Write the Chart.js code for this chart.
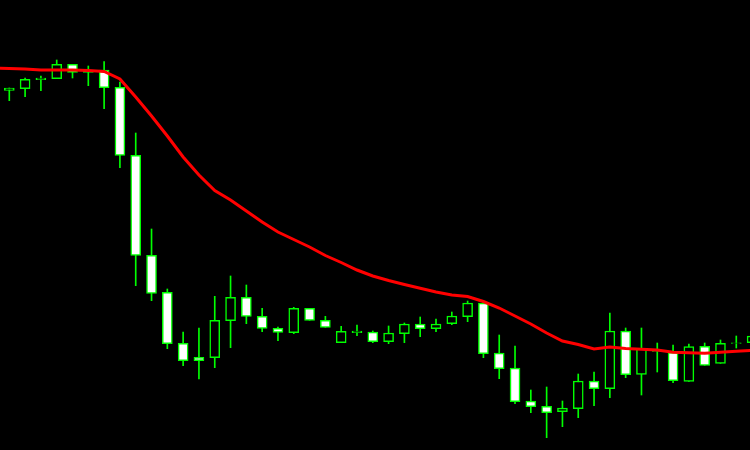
<!DOCTYPE html>
<html>
<head>
<meta charset="utf-8">
<script src="https://cdn.jsdelivr.net/npm/chart.js"></script>
<style>
  html, body { margin: 0; padding: 0; background: #000; }
  #wrap { width: 750px; height: 450px; }
</style>
</head>
<body>
<div id="wrap"><canvas id="chart" width="750" height="450"></canvas></div>
<script>
// candles, left to right (bar 0 is the first one on screen)
const open = [
  111.097, 111.113, 111.203, 111.213, 111.357, 111.290, 111.300, 111.127, 110.447, 109.447,
  109.077, 108.567, 108.427, 108.423, 108.793, 109.027, 108.837, 108.717, 108.673, 108.917,
  108.797, 108.573, 108.673, 108.680, 108.583, 108.663, 108.760, 108.713, 108.763, 108.833,
  108.970, 108.470, 108.320, 107.990, 107.937, 107.883, 107.913, 108.190, 108.113, 108.690,
  108.255, 108.485, 108.477, 108.187, 108.537, 108.367, 108.565, 108.573
]
const high = [
  111.120, 111.220, 111.240, 111.400, 111.357, 111.340, 111.383, 111.180, 110.670, 109.710,
  109.110, 108.680, 108.720, 109.037, 109.240, 109.150, 108.917, 108.730, 108.927, 108.917,
  108.837, 108.737, 108.750, 108.690, 108.740, 108.770, 108.830, 108.810, 108.880, 108.990,
  108.990, 108.650, 108.540, 108.100, 108.130, 107.990, 108.260, 108.280, 108.870, 108.720,
  108.720, 108.570, 108.550, 108.560, 108.570, 108.600, 108.640, 108.640
]
const low = [
  110.993, 111.033, 111.093, 111.213, 111.220, 111.143, 110.913, 110.323, 109.143, 108.993,
  108.513, 108.343, 108.210, 108.323, 108.523, 108.763, 108.683, 108.593, 108.663, 108.797,
  108.727, 108.573, 108.643, 108.573, 108.563, 108.573, 108.633, 108.683, 108.753, 108.783,
  108.423, 108.213, 107.963, 107.873, 107.623, 107.733, 107.823, 107.943, 108.023, 108.223,
  108.050, 108.280, 108.173, 108.187, 108.347, 108.367, 108.520, 108.573
]
const close = [
  111.120, 111.207, 111.220, 111.357, 111.277, 111.275, 111.123, 110.447, 109.447, 109.065,
  108.563, 108.393, 108.393, 108.797, 109.027, 108.835, 108.715, 108.677, 108.917, 108.797,
  108.727, 108.687, 108.690, 108.583, 108.670, 108.760, 108.713, 108.760, 108.840, 108.970,
  108.463, 108.313, 107.983, 107.933, 107.873, 107.920, 108.190, 108.113, 108.690, 108.253,
  108.515, 108.495, 108.193, 108.535, 108.347, 108.567, 108.572, 108.640
]
// moving average, starts one bar before bar 0
const maStart = -1
const ma = [
  111.320,
  111.315, 111.310, 111.300, 111.300, 111.300, 111.295, 111.285, 111.210, 111.030, 110.840,
  110.640, 110.430, 110.250, 110.095, 110.000, 109.890, 109.780, 109.680, 109.605, 109.530,
  109.445, 109.375, 109.300, 109.240, 109.195, 109.155, 109.117, 109.080, 109.050, 109.035,
  108.985, 108.920, 108.840, 108.760, 108.670, 108.590, 108.555, 108.510, 108.530, 108.515,
  108.507, 108.500, 108.477, 108.473, 108.467, 108.477, 108.487, 108.497
]

const GREEN = "#00ff00"

const bodies = open.map((o, i) => ({ x: i, y: [o, close[i]] }))
const wicks = open.map((o, i) => ({ x: i, y: [low[i], high[i]] }))
const maPoints = ma.map((v, i) => ({ x: i + maStart, y: v }))
const bodyFill = open.map((o, i) => close[i] > o ? "#000000" : "#ffffff")

new Chart(document.getElementById("chart"), {
  type: "bar",
  data: {
    datasets: [
      {
        type: "line",
        data: maPoints,
        borderColor: "#ff0000",
        borderWidth: 3,
        pointRadius: 0,
        tension: 0,
        order: 0
      },
      {
        data: bodies,
        backgroundColor: bodyFill,
        borderColor: GREEN,
        borderWidth: 1.5,
        borderSkipped: false,
        barThickness: 10,
        grouped: false,
        order: 1
      },
      {
        data: wicks,
        backgroundColor: GREEN,
        borderWidth: 0,
        barThickness: 1,
        grouped: false,
        order: 2
      }
    ]
  },
  options: {
    responsive: false,
    animation: false,
    devicePixelRatio: 1,
    layout: { padding: 0 },
    plugins: { legend: { display: false }, tooltip: { enabled: false } },
    scales: {
      x: { type: "linear", offset: false, min: -0.588, max: 46.868, display: false },
      y: { min: 107.5, max: 112.0, display: false }
    }
  }
})
</script>
</body>
</html>
